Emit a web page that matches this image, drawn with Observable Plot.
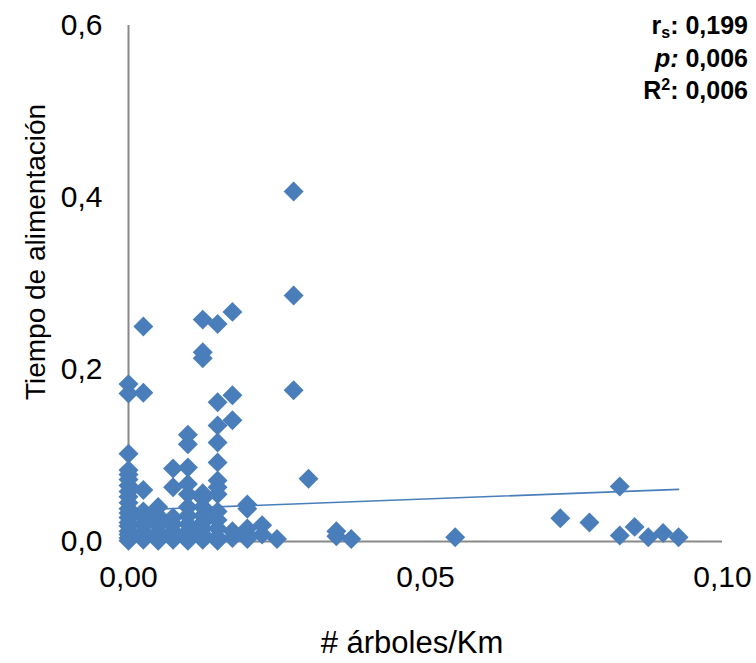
<!DOCTYPE html>
<html>
<head>
<meta charset="utf-8">
<script src="https://cdn.jsdelivr.net/npm/d3@7"></script>
<script src="https://cdn.jsdelivr.net/npm/@observablehq/plot@0.6"></script>
<style>
  html, body { margin: 0; padding: 0; background: #fff; }
  #chart { width: 756px; height: 663px; }
</style>
</head>
<body>
<div id="chart"></div>
<script>
// ---- Data ----
const xValues = [
  0,0,0,0,0,0,0,0,0,0,0,0,0,0,0,0,0,0,0,
  0.0025,0.0025,0.0025,0.0025,0.0025,0.0025,0.0025,0.0025,0.0025,
  0.005,0.005,0.005,0.005,0.005,0.005,0.005,
  0.0075,0.0075,0.0075,0.0075,0.0075,0.0075,0.0075,
  0.01,0.01,0.01,0.01,0.01,0.01,0.01,0.01,0.01,0.01,0.01,
  0.0125,0.0125,0.0125,0.0125,0.0125,0.0125,0.0125,0.0125,0.0125,0.0125,0.0125,
  0.015,0.015,0.015,0.015,0.015,0.015,0.015,0.015,0.015,0.015,0.015,0.015,0.015,
  0.0175,0.0175,0.0175,0.0175,0.0175,
  0.02,0.02,0.02,0.02,0.02,
  0.0225,0.0225,
  0.025,
  0.0278,0.0278,0.0278,
  0.0303,
  0.035,0.035,
  0.0375,
  0.055,
  0.0727,
  0.0776,
  0.0827,0.0827,
  0.0852,
  0.0875,
  0.090,
  0.0926
];
const yValues = [
  0.102,0.083,0.078,0.072,0.065,0.058,0.052,0.045,0.038,0.033,0.028,0.022,0.018,0.012,0.008,0.004,0.001,0.183,0.172,
  0.250,0.173,0.060,0.035,0.028,0.020,0.012,0.006,0.002,
  0.040,0.030,0.025,0.018,0.010,0.004,0.001,
  0.085,0.063,0.028,0.020,0.012,0.006,0.002,
  0.124,0.113,0.086,0.067,0.055,0.040,0.030,0.020,0.012,0.005,0.001,
  0.258,0.220,0.213,0.056,0.050,0.040,0.030,0.022,0.015,0.008,0.002,
  0.253,0.162,0.135,0.115,0.092,0.071,0.063,0.055,0.035,0.025,0.015,0.005,0.001,
  0.267,0.170,0.141,0.012,0.004,
  0.043,0.038,0.015,0.008,0.003,
  0.019,0.008,
  0.003,
  0.407,0.286,0.176,
  0.073,
  0.012,0.006,
  0.003,
  0.005,
  0.027,
  0.022,
  0.064,0.007,
  0.017,
  0.005,
  0.010,
  0.005
];
const xTicks = [0, 0.05, 0.10];
const yTicks = [0, 0.2, 0.4, 0.6];
const trendIntercept = 0.0364;
const trendSlope = 0.261;
const xLabel = "# árboles/Km";
const yLabel = "Tiempo de alimentación";

// ---- Build table ----
const points = xValues.map((x, i) => ({x, y: yValues[i]}));
const xMax = d3.max(xValues);
const trend = [0, xMax].map(x => ({x, y: trendIntercept + trendSlope * x}));
const fmt = (d, n) => d.toFixed(n).replace(".", ",");

const blue = "#4A7EBB";
const axisGray = "#898989";

const plot = Plot.plot({
  width: 756,
  height: 663,
  marginLeft: 128,
  marginRight: 34,
  marginTop: 25,
  marginBottom: 122,
  style: {fontFamily: "'Liberation Sans', Arial, sans-serif", fontSize: "30px", color: "#000", background: "#fff"},
  x: {domain: [0, 0.10], label: null},
  y: {domain: [0, 0.6], label: null},
  marks: [
    Plot.axisX({ticks: xTicks, tickFormat: d => fmt(d, 2), tickSize: 0, tickPadding: 24, fontSize: 30, label: null}),
    Plot.axisY({ticks: yTicks, tickFormat: d => fmt(d, 1), tickSize: 0, tickPadding: 26, fontSize: 30, label: null}),
    Plot.ruleX([0], {stroke: axisGray, strokeWidth: 2}),
    Plot.ruleY([0], {stroke: axisGray, strokeWidth: 2}),
    Plot.dot(points, {x: "x", y: "y", symbol: "diamond2", r: 9, fill: blue, stroke: "none"}),
    Plot.line(trend, {x: "x", y: "y", stroke: blue, strokeWidth: 1.6})
  ]
});

document.getElementById("chart").appendChild(plot);

// axis titles and stats annotation as real text
const svg = d3.select(plot);
svg.append("text")
  .attr("x", 412).attr("y", 653)
  .attr("text-anchor", "middle")
  .style("font-size", "31px")
  .text(xLabel);
svg.append("text")
  .attr("transform", "translate(45,252) rotate(-90)")
  .attr("text-anchor", "middle")
  .style("font-size", "28px")
  .text(yLabel);

// three separate stat lines so their boxes don't overlap
const statStyle = sel => sel.attr("text-anchor", "end").attr("x", 748)
  .style("font-size", "25px").style("font-weight", "bold");
const l1 = svg.append("text").call(statStyle).attr("y", 34);
l1.append("tspan").text("r");
l1.append("tspan").attr("dy", 4).style("font-size", "16px").text("s");
l1.append("tspan").attr("dy", -4).text(": 0,199");
const l2 = svg.append("text").call(statStyle).attr("y", 67);
l2.append("tspan").style("font-style", "italic").text("p:");
l2.append("tspan").text(" 0,006");
const l3 = svg.append("text").call(statStyle).attr("y", 99);
l3.append("tspan").text("R");
l3.append("tspan").attr("dy", -9).style("font-size", "16px").text("2");
l3.append("tspan").attr("dy", 9).text(": 0,006");
</script>
</body>
</html>
